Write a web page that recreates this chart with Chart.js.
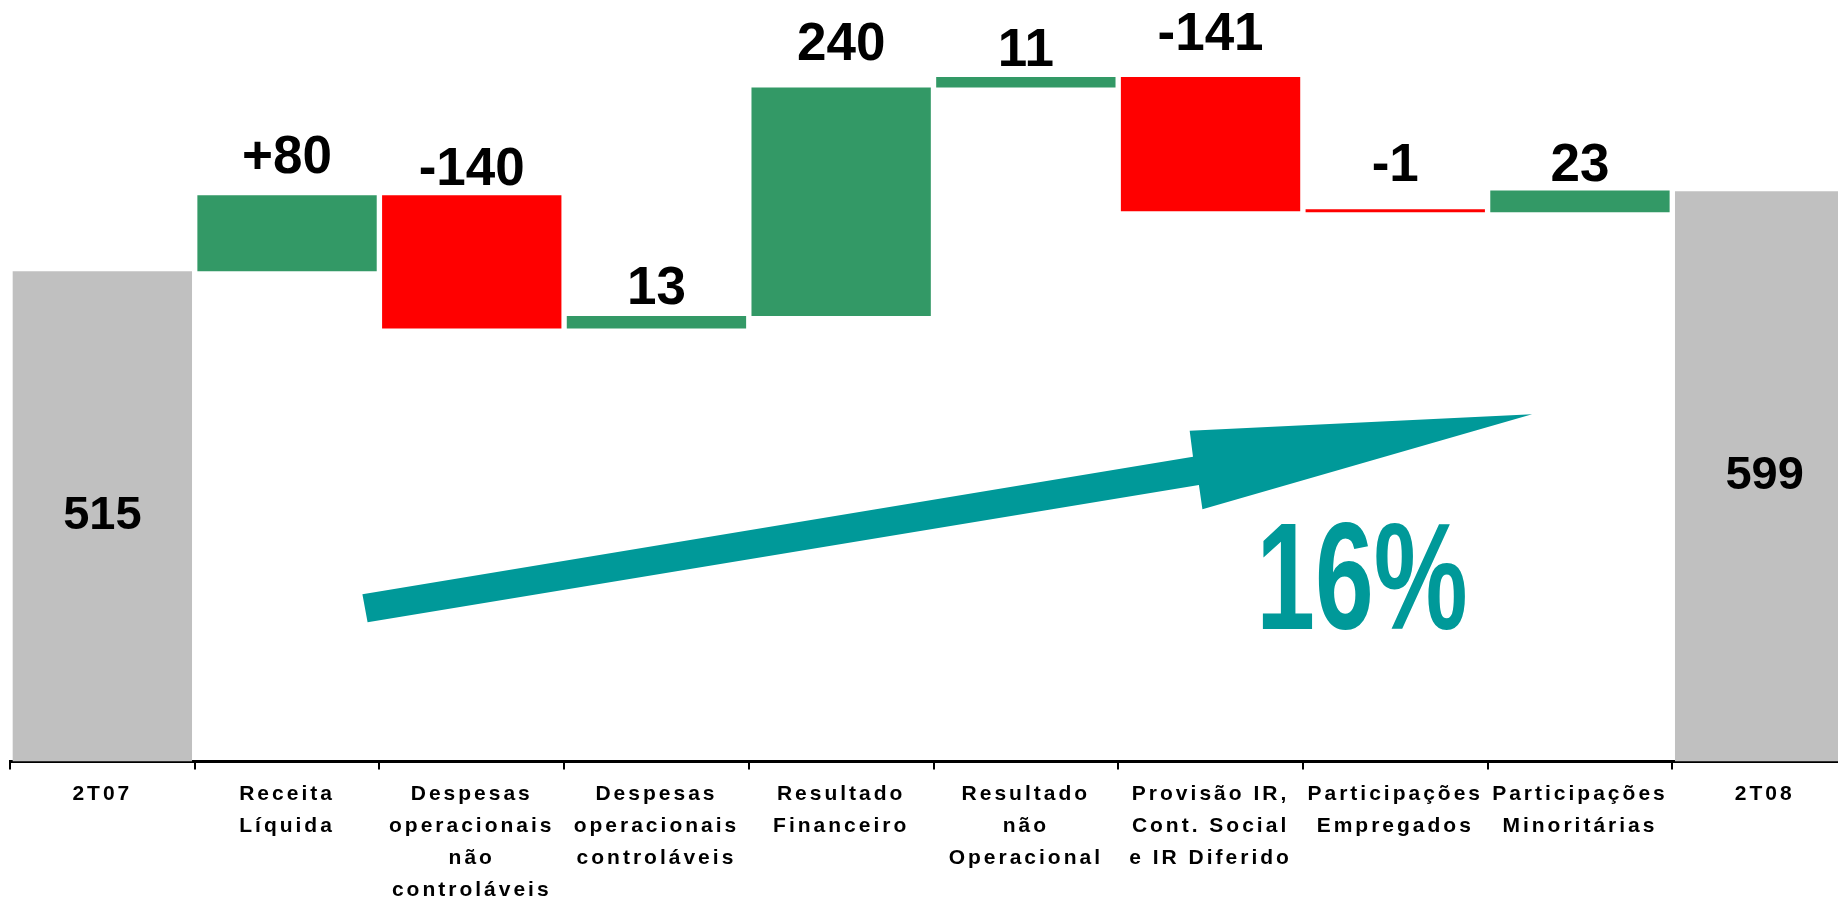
<!DOCTYPE html>
<html lang="pt">
<head>
<meta charset="utf-8">
<title>Lucro líquido 2T07 → 2T08</title>
<script src="https://cdn.jsdelivr.net/npm/chart.js@4/dist/chart.umd.min.js"></script>
<style>
  html, body { margin: 0; padding: 0; background: #ffffff; overflow: hidden; }
  canvas { display: block; }
</style>
</head>
<body>
<canvas id="bridge" width="1870" height="898"></canvas>
<script>
// ---- data -------------------------------------------------------------
const categories = [
  '2T07',
  ['Receita', 'Líquida'],
  ['Despesas', 'operacionais', 'não', 'controláveis'],
  ['Despesas', 'operacionais', 'controláveis'],
  ['Resultado', 'Financeiro'],
  ['Resultado', 'não', 'Operacional'],
  ['Provisão IR,', 'Cont. Social', 'e IR Diferido'],
  ['Participações', 'Empregados'],
  ['Participações', 'Minoritárias'],
  '2T08'
];
const openingValue = 515;
const changes = [80, -140, 13, 240, 11, -141, -1, 23];
const closingValue = 599;
const valueLabels = ['515', '+80', '-140', '13', '240', '11', '-141', '-1', '23', '599'];
const growthLabel = '16%';

// ---- styling ----------------------------------------------------------
const FONT = '"Liberation Sans", Arial, Helvetica, sans-serif';
const GREY = '#c0c0c0';
const GREEN = '#339966';
const RED = '#ff0000';
const TEAL = '#009999';
// distance (px) between each bar top and the baseline of its value label
const labelLift = [0, 22, 10, 12, 28, 11, 27, 28, 9, 0];

// ---- build floating bars from the running total -----------------------
const spans = [[0, openingValue]];
const colors = [GREY];
const isTotal = [true];
let running = openingValue;
changes.forEach(d => {
  const next = running + d;
  spans.push([Math.min(running, next), Math.max(running, next)]);
  colors.push(d >= 0 ? GREEN : RED);
  isTotal.push(false);
  running = next;
});
spans.push([0, closingValue]);
colors.push(GREY);
isTotal.push(true);

// growth arrow, in (category index, value) units
const arrowShape = [
  [1.408, 175.6], [5.905, 320.2], [5.887, 347.5], [7.741, 364.7],
  [5.956, 264.9], [5.937, 290.4], [1.436, 146.2]
];
const growthAnchor = [6.82, 138.9];

// tick labels get the wide tracking; everything drawn afterwards does not
const trackingPlugin = {
  id: 'tracking',
  beforeDraw(chart) { chart.ctx.letterSpacing = '3px'; },
  beforeDatasetsDraw(chart) { chart.ctx.letterSpacing = '0px'; }
};

const annotationPlugin = {
  id: 'bridgeAnnotations',
  afterDatasetsDraw(chart) {
    const ctx = chart.ctx;
    const xs = chart.scales.x, ys = chart.scales.y;
    const meta = chart.getDatasetMeta(0);

    // value labels
    meta.data.forEach((bar, i) => {
      const top = Math.min(bar.y, bar.base);
      const bottom = Math.max(bar.y, bar.base);
      ctx.save();
      ctx.fillStyle = '#000000';
      ctx.textAlign = 'center';
      if (isTotal[i]) {
        ctx.font = 'bold 47px ' + FONT;
        ctx.textBaseline = 'middle';
        ctx.fillText(valueLabels[i], bar.x, (top + bottom) / 2);
      } else {
        ctx.font = 'bold 53px ' + FONT;
        ctx.textBaseline = 'alphabetic';
        ctx.fillText(valueLabels[i], bar.x, top - labelLift[i]);
      }
      ctx.restore();
    });

    // growth arrow
    ctx.save();
    ctx.fillStyle = TEAL;
    ctx.beginPath();
    arrowShape.forEach(([ix, v], k) => {
      const px = xs.getPixelForValue(ix);
      const py = ys.getPixelForValue(v);
      if (k === 0) ctx.moveTo(px, py); else ctx.lineTo(px, py);
    });
    ctx.closePath();
    ctx.fill();
    ctx.restore();

    // growth percentage, in condensed heavy type
    const gx = xs.getPixelForValue(growthAnchor[0]);
    const gy = ys.getPixelForValue(growthAnchor[1]);
    ctx.save();
    ctx.translate(gx, gy);
    ctx.scale(0.69, 1);
    ctx.fillStyle = TEAL;
    ctx.font = 'bold 153px ' + FONT;
    ctx.textAlign = 'center';
    ctx.textBaseline = 'alphabetic';
    ctx.fillText(growthLabel, 0, 0);
    ctx.restore();
  }
};

Chart.defaults.font.family = FONT;

new Chart(document.getElementById('bridge'), {
  type: 'bar',
  data: {
    labels: categories,
    datasets: [{
      data: spans,
      backgroundColor: colors,
      borderWidth: 0,
      minBarLength: 3,
      barPercentage: 0.971,
      categoryPercentage: 1
    }]
  },
  options: {
    responsive: false,
    animation: false,
    layout: { padding: { left: 10, right: 13, top: 0, bottom: 0 } },
    plugins: {
      legend: { display: false },
      tooltip: { enabled: false }
    },
    scales: {
      x: {
        offset: true,
        grid: {
          display: true,
          offset: true,
          drawOnChartArea: false,
          drawTicks: true,
          tickLength: 8,
          color: '#000000',
          lineWidth: 2
        },
        border: { display: true, color: '#000000', width: 3 },
        ticks: {
          autoSkip: false,
          maxRotation: 0,
          minRotation: 0,
          padding: 9,
          color: '#000000',
          font: { size: 21, weight: 'bold', lineHeight: 1.52 }
        },
        afterFit(scale) { scale.height = 136.5; }
      },
      y: {
        display: false,
        min: 0,
        max: 800
      }
    }
  },
  plugins: [trackingPlugin, annotationPlugin]
});
</script>
</body>
</html>
